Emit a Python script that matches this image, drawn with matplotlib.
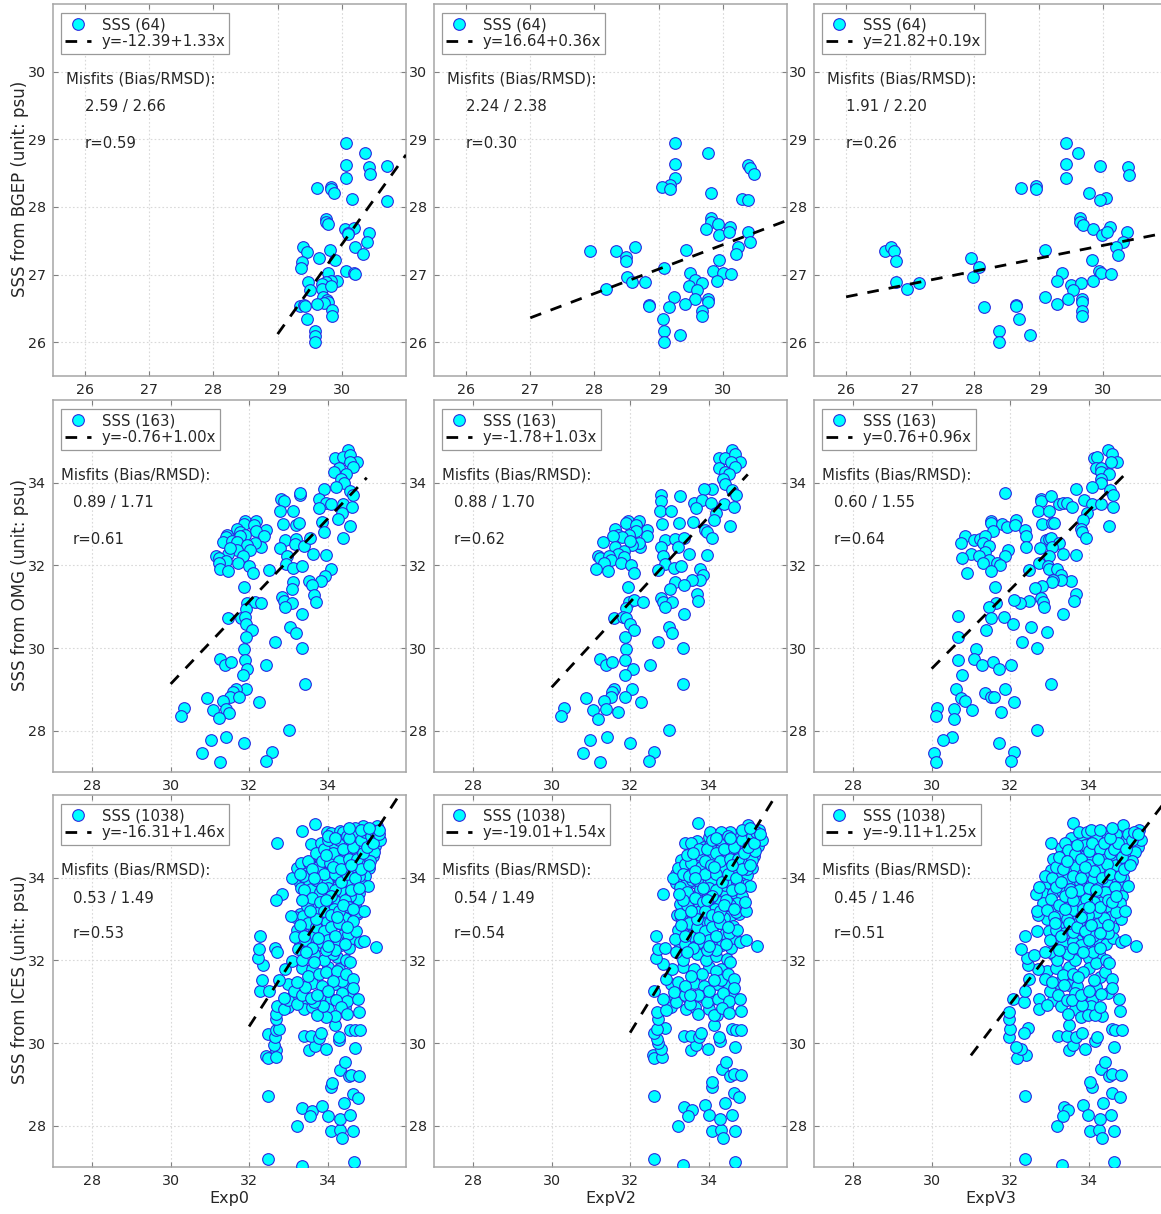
import matplotlib
matplotlib.use("Agg")
import matplotlib.pyplot as plt
import numpy as np

plt.rcParams['font.family'] = ['DejaVu Sans']

bgep_exp0 = [(30.07,28.95),(30.36,28.79),(30.07,28.62),(30.42,28.59),(30.70,28.61),(30.44,28.48),(30.07,28.43),(29.62,28.28),(29.83,28.30),(29.83,28.26),(29.88,28.21),(30.16,28.12),(30.70,28.09),(29.75,27.82),(29.75,27.78),(29.79,27.74),(30.05,27.68),(30.19,27.69),(30.10,27.62),(30.10,27.60),(30.42,27.62),(30.40,27.48),(30.21,27.41),(30.33,27.30),(29.40,27.40),(29.45,27.34),(29.81,27.37),(29.65,27.25),(29.38,27.19),(29.90,27.21),(29.36,27.09),(30.07,27.05),(30.19,27.03),(30.20,27.01),(29.78,27.03),(29.48,26.89),(29.93,26.91),(29.83,26.90),(29.75,26.89),(29.69,26.86),(29.69,26.78),(29.83,26.83),(29.51,26.77),(29.71,26.67),(29.77,26.63),(29.78,26.59),(29.72,26.58),(29.62,26.57),(29.35,26.53),(29.41,26.55),(29.42,26.54),(29.84,26.47),(29.84,26.39),(29.46,26.35),(29.58,26.17),(29.58,26.09),(29.58,26.01)]
bgep_expv2 = [(29.26,28.95),(29.77,28.79),(29.26,28.63),(30.40,28.62),(30.43,28.57),(30.48,28.48),(29.26,28.43),(29.18,28.32),(29.06,28.29),(29.18,28.26),(29.81,28.21),(30.30,28.12),(30.40,28.10),(29.81,27.84),(29.81,27.78),(29.92,27.74),(29.74,27.68),(30.11,27.70),(29.94,27.58),(30.10,27.63),(30.40,27.63),(30.42,27.48),(30.24,27.41),(30.21,27.30),(29.43,27.37),(27.93,27.35),(28.33,27.35),(28.63,27.40),(28.49,27.26),(28.49,27.20),(29.08,27.10),(29.94,27.21),(29.49,27.03),(29.85,27.05),(30.01,27.03),(30.12,27.01),(28.50,26.96),(28.59,26.89),(28.79,26.89),(28.18,26.78),(29.57,26.92),(29.68,26.88),(29.91,26.91),(29.47,26.83),(29.59,26.77),(29.57,26.64),(29.24,26.67),(29.77,26.64),(29.77,26.59),(29.41,26.57),(29.16,26.52),(28.85,26.55),(28.85,26.54),(29.67,26.46),(29.67,26.38),(29.07,26.35),(29.08,26.16),(29.08,26.01),(29.34,26.10)]
bgep_expv3 = [(29.43,28.95),(29.62,28.79),(29.43,28.63),(29.95,28.61),(30.40,28.59),(30.41,28.47),(29.43,28.43),(28.73,28.28),(28.96,28.31),(28.96,28.26),(29.79,28.21),(30.05,28.13),(29.95,28.10),(29.64,27.84),(29.64,27.78),(29.69,27.73),(29.85,27.68),(30.11,27.70),(29.99,27.58),(30.07,27.63),(30.38,27.63),(30.32,27.48),(30.20,27.41),(30.23,27.29),(29.10,27.37),(27.94,27.25),(28.07,27.11),(27.98,26.96),(29.83,27.21),(29.36,27.03),(29.94,27.05),(29.97,27.03),(30.13,27.01),(29.29,26.91),(29.50,26.85),(29.66,26.88),(29.85,26.91),(29.54,26.77),(29.45,26.64),(29.10,26.67),(29.67,26.64),(29.67,26.59),(29.28,26.57),(28.15,26.52),(28.65,26.55),(28.65,26.54),(29.67,26.46),(29.67,26.38),(28.70,26.35),(28.39,26.16),(28.39,26.01),(28.86,26.10),(26.60,27.35),(26.70,27.40),(26.74,27.35),(26.78,27.20),(26.77,26.89),(26.95,26.78),(27.13,26.88)]

omg_exp0 = [(34.53,34.79),(34.19,34.60),(34.39,34.62),(34.58,34.67),(34.75,34.49),(34.58,34.51),(34.64,34.39),(34.28,34.35),(34.17,34.27),(34.47,34.20),(34.35,34.10),(34.42,33.98),(34.21,33.89),(34.56,33.81),(33.92,33.84),(34.66,33.70),(33.78,33.60),(33.97,33.52),(34.10,33.49),(34.39,33.49),(34.62,33.41),(33.77,33.38),(34.36,33.27),(34.26,33.11),(33.86,33.05),(34.56,32.94),(33.92,32.81),(34.40,32.67),(32.82,33.60),(32.89,33.56),(33.29,33.70),(33.30,33.76),(32.79,33.31),(33.12,33.32),(32.87,33.00),(33.20,32.98),(33.26,33.02),(32.91,32.61),(33.20,32.63),(33.16,32.51),(32.79,32.43),(33.39,32.46),(33.56,32.67),(33.64,32.27),(33.95,32.24),(32.97,32.22),(32.95,32.03),(33.13,31.94),(33.36,31.99),(32.51,31.89),(34.08,31.91),(33.93,31.74),(33.83,31.63),(33.13,31.60),(33.53,31.61),(33.60,31.52),(33.09,31.42),(33.65,31.28),(33.71,31.12),(32.84,31.23),(32.88,31.14),(33.09,31.10),(32.91,30.98),(33.36,30.82),(33.03,30.51),(33.19,30.37),(33.36,29.99),(32.66,30.15),(32.42,29.60),(33.42,29.13),(33.01,28.02),(32.59,27.48),(32.44,27.27),(32.25,28.70),(31.89,33.07),(31.86,33.01),(32.18,33.08),(32.13,32.98),(32.43,32.85),(32.17,32.84),(32.38,32.71),(32.31,32.44),(32.16,32.55),(31.70,32.87),(31.76,32.81),(31.90,32.73),(31.78,32.70),(31.44,32.73),(31.41,32.68),(31.34,32.56),(31.57,32.60),(31.68,32.57),(31.95,32.49),(32.03,32.37),(31.69,32.36),(31.47,32.27),(31.51,32.41),(31.15,32.23),(31.23,32.18),(31.42,32.11),(31.24,32.05),(31.25,31.92),(31.45,31.87),(31.85,32.22),(31.71,32.05),(32.00,31.99),(32.10,31.81),(31.86,31.47),(31.95,31.08),(32.14,31.12),(32.31,31.10),(31.93,30.95),(31.46,30.73),(31.80,30.73),(31.90,30.76),(31.93,30.58),(32.08,30.43),(31.91,30.27),(31.86,29.98),(31.90,29.71),(31.25,29.73),(31.38,29.60),(31.53,29.65),(31.94,29.49),(31.84,29.34),(31.92,29.02),(31.66,29.02),(31.58,28.93),(31.51,28.82),(31.75,28.81),(31.33,28.72),(30.92,28.79),(31.42,28.53),(31.49,28.42),(31.08,28.50),(31.23,28.30),(30.35,28.56),(30.26,28.35),(31.42,27.84),(31.03,27.78),(31.86,27.71),(30.79,27.46),(31.27,27.23)]
omg_expv2 = [(34.60,34.79),(34.27,34.60),(34.43,34.60),(34.68,34.69),(34.79,34.49),(34.57,34.51),(34.68,34.39),(34.26,34.35),(34.41,34.27),(34.53,34.20),(34.37,34.10),(34.41,33.96),(34.09,33.85),(33.89,33.84),(34.60,33.82),(34.69,33.70),(33.62,33.52),(33.83,33.57),(34.05,33.50),(34.40,33.48),(34.64,33.42),(33.68,33.39),(34.20,33.27),(34.13,33.10),(33.61,33.05),(34.54,32.95),(33.92,32.85),(33.96,32.80),(34.08,32.67),(32.78,33.69),(32.80,33.56),(33.28,33.68),(32.77,33.31),(33.03,33.32),(32.82,32.99),(33.25,33.02),(32.89,32.61),(33.15,32.64),(33.37,32.67),(33.21,32.45),(32.78,32.44),(32.84,32.23),(33.51,32.28),(33.96,32.25),(32.89,32.03),(32.72,31.88),(33.12,31.93),(33.29,31.99),(33.78,31.90),(33.85,31.76),(33.79,31.65),(33.58,31.64),(33.14,31.60),(33.38,31.52),(33.01,31.43),(33.71,31.30),(33.72,31.14),(32.80,31.21),(32.84,31.12),(33.06,31.11),(32.89,30.98),(33.37,30.82),(33.00,30.52),(33.06,30.37),(33.34,30.00),(32.70,30.15),(32.51,29.60),(33.35,29.13),(32.98,28.02),(32.62,27.48),(32.49,27.27),(32.27,28.70),(31.95,33.07),(31.89,33.02),(32.23,33.08),(32.16,32.98),(32.42,32.85),(32.15,32.84),(32.42,32.72),(32.26,32.45),(32.22,32.55),(31.61,32.87),(31.68,32.73),(31.97,32.73),(31.80,32.69),(31.57,32.71),(31.32,32.56),(31.61,32.45),(32.05,32.48),(31.84,32.35),(31.99,32.58),(31.68,32.27),(31.84,32.21),(31.18,32.23),(31.22,32.17),(31.45,32.23),(31.50,32.13),(31.34,32.06),(31.12,31.90),(31.44,31.86),(31.78,32.05),(32.02,32.02),(32.09,31.81),(31.94,31.47),(31.98,31.12),(32.10,31.15),(32.33,31.11),(31.89,30.97),(31.60,30.72),(31.83,30.76),(31.89,30.72),(31.99,30.58),(32.11,30.43),(31.87,30.27),(31.89,29.98),(31.87,29.71),(31.24,29.73),(31.38,29.59),(31.55,29.65),(32.07,29.48),(31.87,29.35),(32.06,29.00),(31.60,29.01),(31.55,28.93),(31.52,28.82),(31.88,28.82),(31.33,28.72),(30.88,28.79),(31.38,28.52),(31.68,28.44),(31.05,28.50),(31.19,28.29),(30.31,28.56),(30.25,28.35),(31.41,27.84),(30.98,27.78),(31.99,27.71),(30.81,27.45),(31.24,27.23)]
omg_expv3 = [(34.50,34.79),(34.14,34.60),(34.21,34.62),(34.60,34.69),(34.73,34.49),(34.57,34.51),(34.18,34.36),(34.31,34.36),(34.31,34.27),(34.52,34.20),(34.32,34.08),(34.31,33.98),(34.08,33.90),(33.69,33.84),(34.55,33.82),(34.62,33.69),(32.78,33.60),(32.78,33.56),(33.05,33.68),(33.24,33.48),(33.36,33.52),(33.46,33.52),(33.57,33.40),(33.89,33.59),(34.10,33.48),(34.32,33.49),(34.62,33.42),(31.86,33.75),(32.72,33.31),(32.99,33.32),(33.95,33.27),(33.87,33.10),(32.82,32.99),(33.08,33.03),(33.11,33.02),(33.80,32.88),(33.83,32.80),(33.93,32.67),(34.52,32.95),(32.92,32.61),(32.99,32.64),(33.05,32.67),(33.24,32.53),(33.08,32.45),(32.77,32.42),(33.34,32.28),(33.67,32.25),(33.00,32.22),(32.73,32.06),(32.96,31.99),(33.00,31.91),(33.19,31.90),(32.49,31.89),(33.29,31.76),(33.56,31.63),(33.31,31.65),(33.09,31.64),(33.06,31.59),(32.81,31.51),(32.64,31.44),(33.67,31.30),(33.63,31.14),(32.78,31.20),(32.85,31.12),(32.49,31.13),(32.26,31.10),(32.09,31.15),(32.86,30.98),(33.34,30.82),(32.52,30.51),(32.95,30.38),(32.68,30.00),(32.30,30.15),(32.01,29.60),(33.04,29.13),(32.69,28.02),(32.11,27.48),(32.02,27.27),(32.11,28.70),(31.50,33.07),(31.52,33.02),(31.79,33.00),(31.91,32.92),(32.16,33.10),(32.12,32.98),(32.37,32.85),(32.40,32.72),(32.40,32.45),(31.94,32.37),(31.86,32.23),(31.57,32.82),(30.84,32.71),(30.76,32.55),(31.09,32.62),(31.23,32.63),(31.36,32.72),(31.30,32.55),(31.47,32.47),(31.36,32.32),(31.00,32.27),(30.78,32.18),(31.20,32.23),(31.45,32.13),(31.30,32.05),(31.66,32.06),(31.75,32.00),(31.50,31.86),(30.89,31.81),(31.62,31.47),(31.63,31.10),(31.47,30.98),(30.66,30.78),(31.50,30.72),(31.84,30.74),(32.07,30.59),(31.38,30.44),(30.67,30.27),(31.13,29.98),(30.66,29.72),(31.08,29.73),(31.29,29.59),(31.57,29.66),(31.72,29.48),(30.77,29.35),(31.87,29.01),(31.35,28.92),(30.62,29.01),(30.76,28.78),(30.84,28.71),(31.51,28.82),(31.59,28.82),(31.04,28.50),(30.58,28.52),(30.56,28.28),(31.77,28.44),(30.13,28.56),(30.12,28.35),(30.51,27.84),(30.30,27.78),(31.72,27.71),(30.05,27.45),(30.12,27.23)]

ices_exp0 = [(33.34,27.03),(32.49,27.19),(34.67,27.12),(33.22,27.98),(34.08,27.86),(34.31,27.89),(34.38,27.69),(34.66,27.87),(33.36,28.43),(33.60,28.36),(33.54,28.23),(33.87,28.48),(34.02,28.24),(34.31,28.15),(34.58,28.25),(34.43,28.54),(34.64,28.77),(34.78,28.68),(32.49,28.71),(34.08,28.94),(34.12,29.04),(34.32,29.35),(34.45,29.53),(34.55,29.19),(34.61,29.23),(34.81,29.21),(33.53,29.82),(33.67,29.93),(33.97,29.85),(34.69,29.89),(34.30,30.08),(34.30,30.15),(33.40,30.17),(33.57,30.17),(33.77,30.13),(33.84,30.23),(34.58,30.31),(34.69,30.31),(34.82,30.31),(34.19,30.44),(32.47,30.22),(32.43,29.69),(32.48,29.63),(32.69,29.82),(32.69,29.65),(32.64,29.94),(32.67,30.14),(32.69,30.32),(32.77,30.35),(32.69,30.58),(32.69,30.70),(32.70,30.90),(32.89,30.82),(32.99,31.05),(32.89,31.09),(33.23,30.94),(33.14,31.25),(33.36,31.16),(33.43,31.35),(33.21,31.47),(33.49,31.61),(33.79,31.67),(33.96,31.71),(34.23,31.73),(34.36,31.51),(34.47,31.67),(34.65,31.55),(34.65,31.32),(34.15,31.51),(34.02,31.26),(34.36,31.21),(34.49,31.02),(34.22,31.05),(34.34,30.86),(34.50,30.71),(34.78,31.06),(34.81,30.76),(34.19,30.66),(33.97,30.62),(33.74,30.68),(33.89,30.90),(33.65,30.98),(33.57,31.10),(33.74,31.15),(32.29,31.25),(32.51,31.27),(32.34,31.53),(32.76,31.53),(32.92,31.79),(32.35,31.88),(32.23,32.05),(32.25,32.27),(32.29,32.60),(32.67,32.31),(32.72,32.21),(35.23,32.33),(33.10,31.99),(33.36,32.01),(33.25,32.28),(33.66,32.15),(33.90,32.01),(34.23,32.07),(34.47,32.02),(34.56,31.95),(33.66,31.95),(34.14,32.15),(34.64,32.53),(34.82,32.45),(34.92,32.47),(34.53,32.63),(34.72,32.72),(34.27,32.44),(34.08,32.60),(33.83,32.44),(33.57,32.58),(33.23,32.74),(33.16,32.56),(33.42,32.48),(33.18,33.04),(33.06,33.08),(33.38,33.08),(33.48,33.32),(33.77,33.16),(33.99,32.92),(34.44,33.02),(34.75,33.16),(34.92,33.19),(34.27,33.40),(34.16,33.24),(34.65,32.96),(34.19,32.92),(32.83,33.60),(32.69,33.47),(32.70,34.83),(33.36,35.14),(33.69,35.31),(33.59,34.81),(33.10,33.98),(33.21,34.23),(33.32,33.76),(33.32,34.35),(33.52,34.35),(33.52,33.93),(33.59,33.73),(33.75,34.25),(33.75,33.93),(33.78,34.55),(33.83,34.85),(33.99,35.10),(34.10,35.08),(34.16,34.77),(34.12,34.48),(33.99,33.90),(34.02,33.50),(34.25,34.23),(34.27,33.81),(34.40,33.65),(34.47,34.55),(34.47,34.25),(34.66,34.88),(34.72,34.25),(34.91,35.26),(34.98,35.14),(34.94,34.90),(35.18,34.63),(35.09,34.41),(35.25,35.24),(35.33,34.91),(35.03,33.79),(34.81,34.03),(34.57,33.89),(34.31,35.14),(34.40,35.10),(34.69,35.19),(35.14,35.16),(35.29,35.14),(34.78,33.48),(34.57,33.56),(33.81,33.65),(33.38,34.05),(33.30,34.10),(33.40,33.70),(33.50,34.40),(33.60,34.20),(33.60,33.50),(33.70,34.60),(33.70,33.95),(33.80,33.40),(33.85,34.40),(33.90,34.70),(33.90,34.10),(33.90,33.20),(34.00,34.90),(34.00,33.75),(34.05,34.35),(34.10,33.10),(34.15,34.60),(34.20,34.10),(34.20,33.70),(34.30,34.90),(34.30,34.40),(34.30,33.20),(34.35,33.90),(34.40,34.70),(34.45,33.45),(34.50,35.00),(34.50,34.10),(34.55,34.45),(34.55,33.30),(34.60,33.70),(34.65,34.75),(34.70,34.00),(34.75,35.05),(34.75,34.45),(34.80,33.75),(34.85,34.90),(34.85,34.20),(34.90,34.60),(34.95,35.10),(35.00,34.75),(35.05,34.30),(35.10,35.00),(35.15,34.85),(35.20,35.10),(35.30,35.05),(35.30,35.15),(33.50,32.90),(33.70,32.80),(33.90,32.70),(34.10,32.80),(34.30,32.90),(34.50,32.80),(33.40,32.60),(33.70,33.00),(34.00,32.50),(34.20,32.60),(33.60,32.30),(33.45,32.20),(34.20,32.25),(33.95,32.25),(33.65,34.00),(33.95,34.55),(34.15,34.25),(34.35,34.20),(34.60,34.30),(34.40,33.35),(34.10,33.55),(33.85,33.75),(33.55,33.20),(33.35,33.45),(33.95,33.45),(34.25,33.05),(34.65,33.25),(34.00,35.00),(34.20,34.95),(34.55,34.95),(34.85,35.15),(35.05,35.20),(34.55,35.20),(34.00,32.35),(33.75,32.55),(34.45,32.40),(33.30,32.85)]
ices_exp0_dense = [(34.05,34.97),(34.25,35.02),(34.45,34.92),(34.65,35.00),(34.90,34.96),(35.05,35.03),(33.90,34.72),(34.10,34.80),(34.30,34.73),(34.55,34.78),(34.75,34.71),(35.00,34.82),(35.20,34.76),(33.80,34.52),(34.05,34.47),(34.25,34.55),(34.50,34.49),(34.70,34.56),(34.95,34.47),(35.15,34.52),(33.55,34.28),(33.80,34.33),(34.00,34.26),(34.25,34.31),(34.45,34.35),(34.70,34.27),(34.90,34.33),(35.05,34.24),(33.40,34.12),(33.60,34.07),(33.85,34.14),(34.10,34.06),(34.30,34.13),(34.55,34.08),(34.80,34.14),(34.95,34.05),(33.30,33.87),(33.55,33.82),(33.80,33.88),(34.05,33.81),(34.30,33.87),(34.50,33.83),(34.75,33.88),(34.90,33.82),(33.45,33.62),(33.70,33.58),(33.95,33.64),(34.15,33.57),(34.40,33.62),(34.60,33.58),(34.80,33.63),(33.55,33.37),(33.75,33.33),(34.00,33.38),(34.25,33.32),(34.50,33.37),(34.70,33.33),(33.30,33.12),(33.55,33.08),(33.80,33.13),(34.00,33.07),(34.30,33.12),(34.55,33.08),(34.75,33.13),(33.40,32.87),(33.60,32.83),(33.85,32.88),(34.10,32.82),(34.35,32.87),(34.60,32.83),(33.35,32.62),(33.65,32.58),(33.90,32.63),(34.20,32.57),(34.40,32.62),(33.30,32.37),(33.55,32.33),(33.80,32.38),(34.10,32.32),(34.35,32.38),(34.55,32.30),(33.35,31.82),(33.60,31.78),(34.00,31.85),(34.30,31.80),(33.00,31.42),(33.30,31.38),(33.60,31.44),(33.85,31.37),(34.20,31.42),(34.50,31.37),(33.10,31.12),(33.45,31.08),(33.80,31.13),(34.10,31.07),(34.60,31.12),(33.00,30.87),(33.40,30.82),(33.60,30.88),(34.00,30.83),(34.45,30.87)]

ices_expv2 = [(33.34,27.06),(32.62,27.20),(34.67,27.12),(33.23,27.99),(34.08,27.87),(34.31,27.90),(34.38,27.69),(34.67,27.87),(33.37,28.44),(33.58,28.37),(33.47,28.23),(33.90,28.49),(34.01,28.25),(34.30,28.17),(34.60,28.27),(34.43,28.55),(34.64,28.78),(34.78,28.69),(32.62,28.72),(34.08,28.94),(34.08,29.06),(34.35,29.37),(34.45,29.55),(34.55,29.19),(34.65,29.25),(34.82,29.22),(33.54,29.84),(33.67,29.94),(33.99,29.86),(34.68,29.90),(34.28,30.06),(34.26,30.15),(33.37,30.18),(33.56,30.18),(33.75,30.14),(33.82,30.24),(34.60,30.34),(34.71,30.32),(34.83,30.32),(34.14,30.44),(34.21,30.67),(32.58,29.70),(32.61,29.64),(32.81,29.66),(32.79,29.85),(32.72,30.00),(32.68,30.10),(32.61,30.24),(32.89,30.36),(32.68,30.33),(32.72,30.59),(32.68,30.75),(32.91,30.81),(32.83,31.07),(32.62,31.27),(32.91,31.56),(33.06,31.78),(33.21,31.48),(32.83,31.90),(32.65,32.06),(32.72,32.28),(32.89,32.31),(32.66,32.60),(32.83,33.61),(33.17,31.00),(33.11,31.23),(33.40,31.15),(33.53,30.95),(33.74,30.69),(33.96,30.99),(34.13,30.67),(34.19,31.73),(34.31,31.52),(34.49,31.68),(34.64,31.56),(34.66,31.33),(34.23,31.07),(34.37,31.21),(34.52,31.02),(34.35,30.85),(34.51,30.73),(34.79,31.07),(34.82,30.77),(34.02,31.26),(33.83,31.68),(33.55,31.62),(34.13,31.52),(33.74,31.15),(33.39,31.37),(33.53,31.15),(35.23,32.34),(33.36,32.00),(33.17,32.20),(33.70,32.16),(33.94,32.02),(34.20,32.10),(34.47,32.04),(34.55,31.96),(34.64,32.55),(34.81,32.44),(34.95,32.48),(34.51,32.65),(34.72,32.73),(34.06,32.59),(33.81,32.44),(33.53,32.59),(33.22,32.74),(33.15,32.52),(33.40,32.40),(33.29,33.05),(33.26,33.13),(33.77,33.19),(34.04,32.93),(34.40,33.02),(34.71,33.17),(34.95,33.20),(34.30,33.41),(34.17,33.25),(33.45,33.33),(33.74,35.33),(33.40,34.85),(33.56,34.83),(33.09,33.99),(33.22,34.23),(33.27,33.77),(33.40,34.34),(33.55,34.36),(33.57,33.94),(33.79,33.73),(33.80,34.26),(33.79,34.56),(34.04,35.10),(34.03,34.80),(34.10,34.50),(34.07,33.94),(34.04,33.51),(34.34,34.23),(34.43,33.82),(34.49,34.56),(34.47,33.91),(34.61,34.88),(34.72,34.18),(34.98,35.12),(34.94,34.87),(34.77,35.06),(35.11,34.42),(35.19,34.64),(35.28,35.15),(35.36,34.90),(35.06,33.80),(34.81,34.58),(34.72,33.90),(34.55,35.10),(34.31,35.10),(34.98,34.22),(34.94,33.41),(35.00,35.27),(34.55,33.33),(33.35,34.10),(33.45,33.65),(33.50,34.05),(33.65,34.15),(33.65,33.50),(33.75,34.70),(33.70,33.95),(33.85,33.40),(33.90,34.40),(33.95,34.70),(33.90,34.10),(33.90,33.20),(34.10,34.90),(34.00,33.75),(34.05,34.30),(34.10,33.10),(34.20,34.60),(34.20,34.10),(34.20,33.70),(34.30,34.90),(34.30,34.40),(34.30,33.20),(34.35,33.90),(34.40,34.70),(34.45,33.45),(34.50,35.00),(34.50,34.10),(34.55,34.45),(34.60,33.70),(34.65,34.75),(34.70,34.00),(34.75,34.45),(34.80,33.75),(34.85,34.90),(34.85,34.20),(34.90,34.60),(35.00,34.75),(35.05,34.30),(35.10,35.00),(35.15,34.85),(35.20,35.10),(35.30,35.05),(33.50,32.90),(33.70,32.80),(33.90,32.70),(34.10,32.80),(34.30,32.90),(34.50,32.80),(33.40,32.60),(33.70,33.00),(34.00,32.50),(34.20,32.60),(33.60,32.30),(33.45,32.20),(34.20,32.25),(33.95,32.25),(33.65,34.00),(34.15,34.25),(34.60,34.30),(34.40,33.35),(34.10,33.55),(33.85,33.75),(33.55,33.20),(33.35,33.45),(33.95,33.45),(34.25,33.05),(34.65,33.25),(34.20,34.95),(34.55,34.95),(34.85,35.15),(35.05,35.20),(34.00,32.35),(33.75,32.55),(34.45,32.40),(33.30,32.85),(33.45,34.55),(33.60,34.60),(33.25,33.60)]
ices_expv2_dense = [(34.00,34.98),(34.22,35.03),(34.42,34.93),(34.66,35.02),(34.88,34.97),(35.10,35.04),(33.70,34.88),(33.88,34.74),(34.12,34.79),(34.32,34.72),(34.57,34.80),(34.77,34.70),(35.03,34.83),(35.25,34.76),(33.55,34.53),(33.98,34.53),(34.28,34.56),(34.52,34.48),(34.72,34.57),(34.98,34.46),(35.17,34.53),(33.30,34.42),(33.72,34.35),(33.97,34.27),(34.22,34.33),(34.44,34.31),(34.68,34.28),(34.92,34.34),(35.10,34.24),(33.18,34.08),(33.42,34.14),(33.62,34.06),(33.84,34.13),(34.08,34.07),(34.30,34.14),(34.57,34.07),(34.82,34.13),(34.98,34.06),(33.18,33.88),(33.42,33.84),(33.68,33.88),(33.92,33.82),(34.18,33.87),(34.40,34.02),(34.60,33.83),(34.83,33.88),(34.95,33.82),(33.30,33.60),(33.52,33.56),(33.75,33.62),(33.98,33.58),(34.22,33.62),(34.45,33.58),(34.68,33.63),(34.85,33.56),(33.28,33.36),(33.60,33.33),(33.75,33.38),(34.00,33.32),(34.25,33.37),(34.48,33.33),(34.72,33.38),(33.20,33.10),(33.48,33.08),(33.75,33.13),(33.98,33.07),(34.28,33.13),(34.55,33.08),(34.78,33.12),(33.32,32.87),(33.58,32.83),(33.85,32.88),(34.12,32.83),(34.38,32.87),(34.62,32.83),(33.32,32.62),(33.62,32.57),(33.88,32.63),(34.22,32.57),(34.42,32.63),(33.28,32.37),(33.55,32.33),(33.82,32.38),(34.12,32.33),(34.35,32.38),(34.58,32.30),(33.35,31.83),(33.62,31.78),(34.00,31.85),(34.32,31.80),(33.05,31.42),(33.28,31.38),(33.62,31.44),(33.88,31.37),(34.22,31.42),(34.52,31.37),(33.15,31.12),(33.48,31.08),(33.80,31.13),(34.10,31.07),(34.62,31.12),(33.03,30.87),(33.42,30.82),(33.65,30.88),(34.02,30.83),(34.48,30.87)]

ices_expv3 = [(33.33,27.06),(32.37,27.20),(34.64,27.12),(33.20,27.99),(34.04,27.87),(34.27,27.90),(34.35,27.69),(34.65,27.87),(33.38,28.44),(33.48,28.37),(33.35,28.23),(33.85,28.49),(33.99,28.25),(34.30,28.17),(34.56,28.27),(34.37,28.55),(34.61,28.78),(34.79,28.69),(32.37,28.72),(34.09,28.94),(34.04,29.06),(34.32,29.37),(34.42,29.55),(34.53,29.19),(34.59,29.25),(34.82,29.22),(33.50,29.84),(33.61,29.94),(33.91,29.86),(34.64,29.90),(34.16,30.06),(34.22,30.15),(33.23,30.18),(33.46,30.18),(33.69,30.14),(33.84,30.24),(34.59,30.34),(34.68,30.32),(34.84,30.32),(33.51,30.44),(32.46,30.36),(32.36,30.23),(32.41,29.70),(32.18,29.64),(32.29,29.86),(32.16,29.90),(31.96,30.14),(31.99,30.35),(31.97,30.59),(31.97,30.75),(32.08,31.07),(32.35,30.98),(32.37,31.25),(32.49,31.56),(32.72,31.78),(32.46,31.88),(32.42,32.06),(32.29,32.28),(32.60,32.14),(32.37,32.60),(32.69,32.72),(33.03,34.85),(32.74,31.07),(32.74,30.83),(32.93,30.93),(33.01,31.27),(33.08,31.48),(33.23,31.17),(33.35,31.64),(33.37,31.40),(33.48,30.69),(33.44,31.03),(33.57,31.03),(33.82,30.63),(33.84,30.93),(33.82,31.15),(34.02,31.27),(33.99,30.67),(34.16,30.67),(34.29,30.87),(34.33,31.19),(34.14,31.52),(33.86,31.72),(33.61,31.68),(33.74,31.60),(34.42,31.72),(34.61,31.56),(34.61,31.33),(34.77,31.07),(34.81,30.77),(35.22,32.34),(33.20,32.00),(33.01,32.20),(33.65,32.02),(33.48,32.16),(34.18,31.94),(34.44,32.02),(34.53,31.94),(34.12,32.19),(34.63,32.55),(34.82,32.44),(34.93,32.48),(34.50,32.65),(33.61,32.44),(33.82,32.36),(33.01,32.48),(33.18,32.74),(33.40,32.65),(33.61,32.69),(32.89,32.20),(34.12,32.60),(32.71,33.09),(32.69,33.19),(32.93,33.21),(33.12,33.05),(33.61,33.21),(33.76,32.93),(34.22,32.89),(34.40,33.02),(34.71,33.17),(34.93,33.20),(34.20,33.17),(33.44,33.01),(33.99,33.09),(33.61,35.33),(33.40,34.85),(33.76,35.10),(33.95,35.10),(32.66,33.61),(32.74,33.77),(32.89,34.04),(33.08,33.98),(33.03,33.49),(33.18,34.26),(33.18,33.77),(33.48,34.66),(33.65,34.58),(33.69,34.26),(33.48,33.98),(33.52,33.73),(33.25,33.33),(33.91,34.80),(34.26,34.24),(34.08,34.50),(34.14,33.41),(33.93,33.49),(34.42,33.65),(34.57,34.88),(34.93,34.88),(34.71,35.06),(34.89,35.27),(35.29,35.15),(35.34,34.90),(35.18,34.62),(35.11,34.40),(35.01,33.80),(34.67,33.77),(34.46,35.06),(34.20,35.02),(34.71,34.30),(34.46,34.34),(34.12,33.98),(33.78,33.89),(33.25,34.50),(33.35,34.20),(33.30,33.90),(33.45,34.40),(33.40,33.55),(33.60,34.05),(33.60,33.45),(33.70,34.80),(33.75,33.70),(33.80,34.45),(33.85,34.10),(33.85,33.25),(34.00,34.30),(34.00,34.65),(34.00,33.75),(34.10,34.85),(34.15,34.15),(34.20,33.70),(34.30,34.70),(34.30,33.30),(34.35,34.00),(34.40,34.85),(34.50,33.45),(34.55,34.60),(34.55,34.10),(34.60,33.40),(34.65,34.70),(34.70,33.55),(34.75,34.85),(34.80,34.05),(34.85,34.50),(34.90,34.20),(34.95,34.70),(35.00,35.05),(35.05,34.30),(35.10,34.90),(35.15,35.10),(35.25,35.05),(33.50,32.90),(33.70,32.80),(33.90,32.70),(34.05,32.85),(34.30,32.65),(34.50,32.85),(33.30,32.60),(33.80,33.05),(34.00,32.50),(33.60,32.30),(33.25,32.25),(34.30,32.30),(33.85,32.20),(33.15,32.90),(33.40,33.25),(33.55,33.65),(33.80,34.00),(34.00,33.30),(34.25,34.45),(34.55,34.95),(33.90,34.25),(34.05,35.15),(34.30,35.15),(34.60,35.20)]
ices_expv3_dense = [(33.55,34.95),(33.85,34.97),(34.12,34.92),(34.36,34.98),(34.66,34.94),(34.85,35.03),(35.08,35.05),(33.30,34.72),(33.55,34.75),(33.80,34.68),(34.18,34.70),(34.42,34.73),(34.78,34.66),(35.05,34.78),(35.25,34.75),(33.10,34.45),(33.35,34.52),(33.62,34.42),(33.92,34.52),(34.18,34.48),(34.42,34.55),(34.68,34.47),(34.98,34.45),(33.05,34.18),(33.25,34.10),(33.52,34.22),(33.75,34.20),(33.98,34.12),(34.25,34.10),(34.50,34.22),(34.62,34.05),(34.88,34.00),(32.95,33.88),(33.15,33.90),(33.42,33.82),(33.65,33.85),(33.90,33.80),(34.22,33.88),(34.45,33.92),(34.82,33.78),(32.85,33.62),(33.10,33.62),(33.32,33.68),(33.62,33.60),(33.85,33.65),(34.08,33.62),(34.30,33.55),(34.55,33.62),(34.85,33.55),(32.85,33.38),(33.15,33.32),(33.50,33.30),(33.72,33.42),(33.98,33.45),(34.35,33.40),(34.58,33.25),(34.80,33.38),(32.95,33.00),(33.25,33.10),(33.50,33.10),(33.72,33.08),(33.92,32.90),(34.10,33.00),(34.55,33.05),(34.82,33.00),(33.00,32.72),(33.30,32.88),(33.50,32.70),(33.72,32.62),(34.02,32.72),(34.30,32.85),(34.62,32.78),(33.15,32.45),(33.35,32.40),(33.70,32.50),(34.00,32.35),(34.25,32.50),(34.45,32.40),(33.12,32.12),(33.38,32.20),(33.75,32.18),(34.00,32.05),(34.28,32.10),(32.95,31.75),(33.18,31.82),(33.50,31.85),(34.00,31.82),(34.28,31.60),(32.90,31.55),(33.22,31.45),(33.50,31.40),(33.70,31.38),(34.20,31.35),(33.10,31.05),(33.65,31.20),(34.10,31.05),(34.50,31.20),(33.30,30.90),(33.65,30.82),(34.05,30.90),(34.35,30.65)]

exp_names = ['Exp0', 'ExpV2', 'ExpV3']
obs_names = ['BGEP', 'OMG', 'ICES']
counts = [64, 163, 1038]
fit_start = [[29, 27, 26], [30, 30, 30], [32, 32, 31]]
fit_end = [[31, 31, 31], [35, 35, 35], [36, 36, 36]]
fit_y_start = [[26.12, 26.36, 26.67], [29.13, 29.05, 29.50], [30.40, 30.25, 29.70]]
fit_y_end = [[28.77, 27.80, 27.62], [34.12, 34.20, 34.27], [36.25, 36.43, 35.90]]
fit_label = [['-12.39+1.33x', '16.64+0.36x', '21.82+0.19x'],
             ['-0.76+1.00x', '-1.78+1.03x', '0.76+0.96x'],
             ['-16.31+1.46x', '-19.01+1.54x', '-9.11+1.25x']]
bias_rmsd = [['2.59 / 2.66', '2.24 / 2.38', '1.91 / 2.20'],
             ['0.89 / 1.71', '0.88 / 1.70', '0.60 / 1.55'],
             ['0.53 / 1.49', '0.54 / 1.49', '0.45 / 1.46']]
corr = [['0.59', '0.30', '0.26'], ['0.61', '0.62', '0.64'], ['0.53', '0.54', '0.51']]
panels = [[bgep_exp0, bgep_expv2, bgep_expv3],
          [omg_exp0, omg_expv2, omg_expv3],
          [ices_exp0_dense + ices_exp0, ices_expv2_dense + ices_expv2, ices_expv3_dense + ices_expv3]]
row_ticks = [[26, 27, 28, 29, 30], [28, 30, 32, 34], [28, 30, 32, 34]]
row_lims = [(25.5, 31), (27, 36), (27, 36)]

W, H = 1161, 1214
fig = plt.figure(figsize=(W / 100, H / 100), dpi=100)
lefts = [53, 434, 814]
tops = [4, 400, 795]
aw, ah = 353, 372
SP = '#a6a6a6'
TXT = '#262626'
for r in range(3):
    for c in range(3):
        ax = fig.add_axes([lefts[c] / W, 1 - (tops[r] + ah) / H, aw / W, ah / H])
        pts = np.array(panels[r][c])
        ax.plot(pts[:, 0], pts[:, 1], 'o', ms=8.4, mfc='#00ffff', mec='#2a2ae0', mew=0.8,
                label=f'SSS ({counts[r]})', zorder=3)
        ax.plot([fit_start[r][c], fit_end[r][c]], [fit_y_start[r][c], fit_y_end[r][c]],
                color='k', lw=2, dashes=(4.2, 3.6), label=f'y={fit_label[r][c]}', zorder=4)
        ax.set_xlim(row_lims[r]); ax.set_ylim(row_lims[r])
        ax.set_xticks(row_ticks[r]); ax.set_yticks(row_ticks[r])
        ax.tick_params(direction='in', top=True, right=True, length=3.5, width=0.8, color='#808080',
                       labelsize=10.3, labelcolor=TXT, pad=5)
        ax.grid(True, color='#d9d9d9', ls=(0, (1.5, 2)), lw=0.8)
        ax.set_axisbelow(True)
        for s in ax.spines.values():
            s.set_color(SP); s.set_linewidth(1.1)
        leg = ax.legend(loc='upper left', bbox_to_anchor=(8 / aw, 1 - 9 / ah), borderaxespad=0,
                        fontsize=10.7, fancybox=False, framealpha=1, edgecolor='#999999',
                        labelcolor=TXT, handlelength=1.75, borderpad=0.28, labelspacing=0.15,
                        handletextpad=0.7, numpoints=1)
        leg.get_frame().set_linewidth(0.9)
        leg.set_zorder(6)
        dx0, dx1 = (13, 32) if r == 0 else (8, 20)
        for txt, dx, dy in [('Misfits (Bias/RMSD):', dx0, 75),
                            (bias_rmsd[r][c], dx1, 103),
                            (f'r={corr[r][c]}', dx1, 139)]:
            ax.text(dx / aw, 1 - dy / ah, txt, transform=ax.transAxes, fontsize=10.7, color=TXT,
                    va='center', ha='left', zorder=7)
        if c == 0:
            fig.text(20 / W, 1 - (tops[r] + ah / 2 - 1) / H, f'SSS from {obs_names[r]} (unit: psu)',
                     rotation=90, fontsize=12, color=TXT, va='center', ha='center')
        if r == 2:
            fig.text((lefts[c] + aw / 2) / W, 1 - 1198 / H, exp_names[c], fontsize=11.5,
                     color=TXT, ha='center', va='center')
fig.savefig('out.png', dpi=100)
